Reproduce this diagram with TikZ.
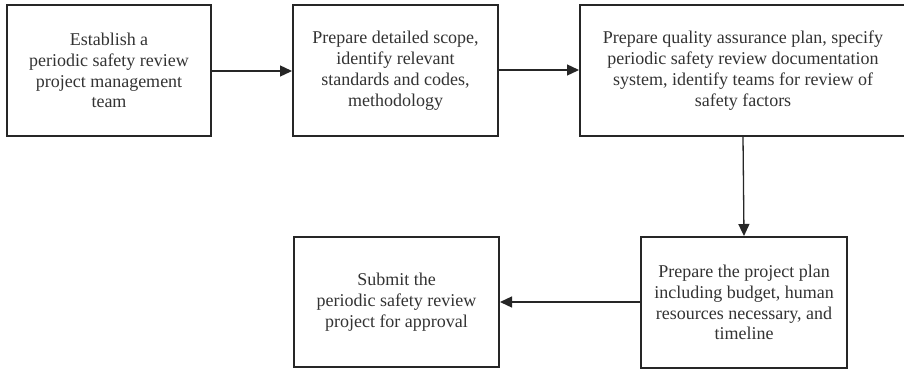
\documentclass[tikz,border=0pt]{standalone}
\usepackage{fontspec}
\setmainfont{Liberation Serif}
\usetikzlibrary{arrows.meta}
\begin{document}
\begin{tikzpicture}[x=1pt,y=-1pt,
  stepbox/.style={draw=black!85, line width=2pt, fill=white, inner sep=0pt,
    align=center, font=\fontsize{18}{20.8}\selectfont, text=black!80},
  flow/.style={draw=black!85, line width=1.3pt,
    -{Triangle[length=12pt,width=11pt]}}]
  \useasboundingbox (0,0) rectangle (904,370);
  \clip (0,0) rectangle (904,370);
  \fill[white] (0,0) rectangle (904,370);

  \node[stepbox, minimum width=204pt, minimum height=131pt] (s1) at (109,70.5)
    {Establish a\\periodic safety review\\project management\\team};
  \node[stepbox, minimum width=205pt, minimum height=131pt] (s2) at (395.5,70.5)
    {Prepare detailed scope,\\identify relevant\\standards and codes,\\methodology};
  \node[stepbox, minimum width=326pt, minimum height=131pt] (s3) at (743,70.5)
    {Prepare quality assurance plan, specify\\periodic safety review documentation\\system, identify teams for review of\\safety factors};
  \node[stepbox, minimum width=206pt, minimum height=131pt] (s4) at (744,302.5)
    {Prepare the project plan\\including budget, human\\resources necessary, and\\timeline};
  \node[stepbox, minimum width=205pt, minimum height=130pt] (s5) at (396.5,302)
    {Submit the\\periodic safety review\\project for approval};

  \draw[flow] (s1.east |- 0,71) -- (s2.west |- 0,71);
  \draw[flow] (s2.east |- 0,70) -- (s3.west |- 0,70);
  \draw[flow] (s3.south) -- (s4.north);
  \draw[flow] (s4.west |- 0,302) -- (s5.east |- 0,302);
\end{tikzpicture}
\end{document}
